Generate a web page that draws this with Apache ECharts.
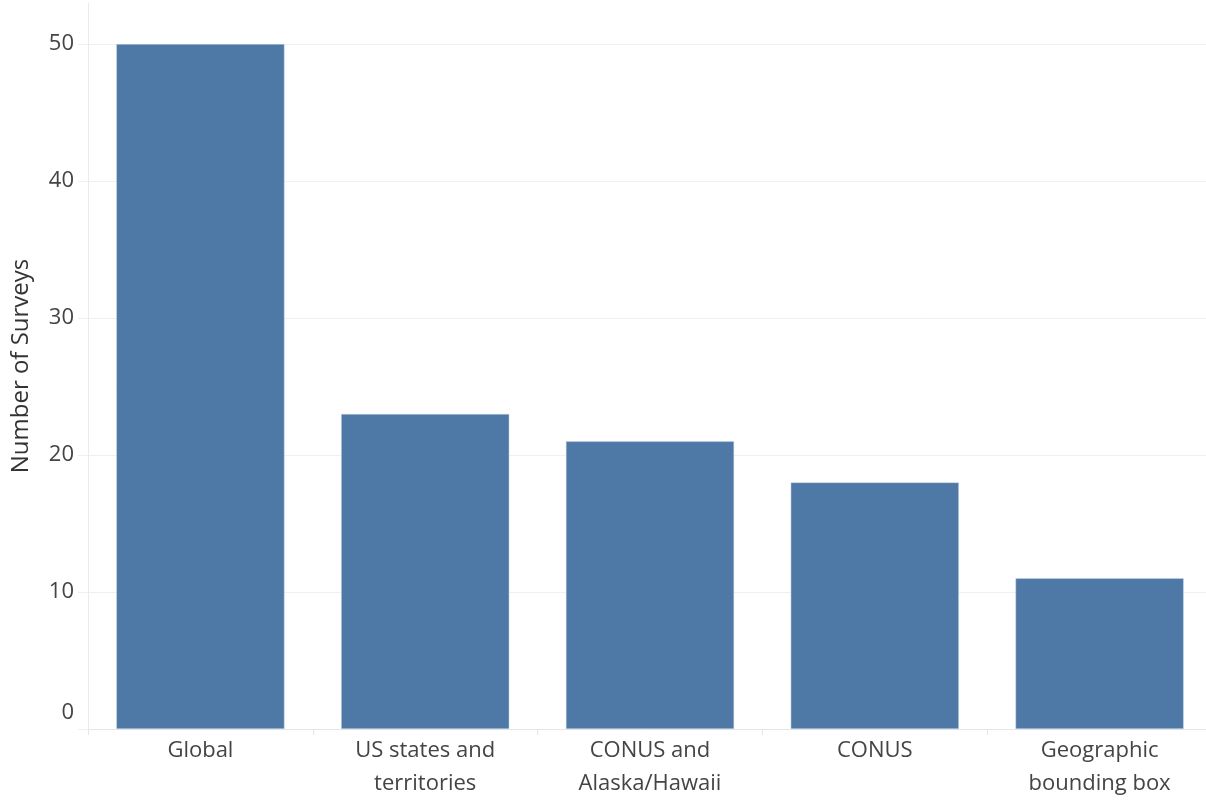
<!DOCTYPE html>
<html>
<head>
<meta charset="utf-8">
<script src="https://cdn.jsdelivr.net/npm/echarts@6/dist/echarts.min.js"></script>
<style>
html,body{margin:0;padding:0;background:#fff;}
#chart{width:1206px;height:801px;}
</style>
</head>
<body>
<div id="chart"></div>
<script>
const categories = ['Global', 'US states and\nterritories', 'CONUS and\nAlaska/Hawaii', 'CONUS', 'Geographic\nbounding box'];
const surveyCounts = [50, 23, 21, 18, 11];
const yAxisTitle = 'Number of Surveys';

const chart = echarts.init(document.getElementById('chart'), null, {renderer: 'canvas'});
const font = '"Open Sans", "Noto Sans", sans-serif';
chart.setOption({
  animation: false,
  backgroundColor: '#ffffff',
  grid: {left: 88, right: -6, top: 3, bottom: 72, containLabel: false, outerBoundsMode: 'none'},
  xAxis: {
    type: 'category',
    data: categories,
    axisLine: {show: true, lineStyle: {color: '#e6e6e6', width: 1}},
    axisTick: {show: true, alignWithLabel: false, length: 6, lineStyle: {color: '#e6e6e6'}},
    axisLabel: {color: '#444444', fontFamily: font, fontSize: 22, lineHeight: 33, margin: 5, interval: 0}
  },
  yAxis: {
    type: 'value',
    min: 0, max: 53, interval: 10,
    name: yAxisTitle,
    nameLocation: 'middle',
    nameGap: 55,
    nameRotate: 90,
    nameTextStyle: {color: '#333333', fontFamily: font, fontSize: 24},
    axisLine: {show: true, lineStyle: {color: '#ebebeb', width: 1}},
    axisTick: {show: true, length: 10, lineStyle: {color: '#f0f0f0'}},
    splitLine: {show: true, showMaxLine: false, lineStyle: {color: '#f0f0f0', width: 1}},
    axisLabel: {
      color: '#444444', fontFamily: font, fontSize: 22, margin: 14,
      showMaxLabel: false,
      formatter: function (v) { return v === 0 ? '{z|0}' : String(v); },
      rich: {z: {color: '#444444', fontFamily: font, fontSize: 22, padding: [0, 0, 32, 0]}}
    }
  },
  series: [{
    type: 'bar',
    data: surveyCounts,
    barWidth: '74.8%',
    itemStyle: {color: '#4e79a7', borderColor: '#c9d6e4', borderWidth: 0.5}
  }]
});
</script>
</body>
</html>
